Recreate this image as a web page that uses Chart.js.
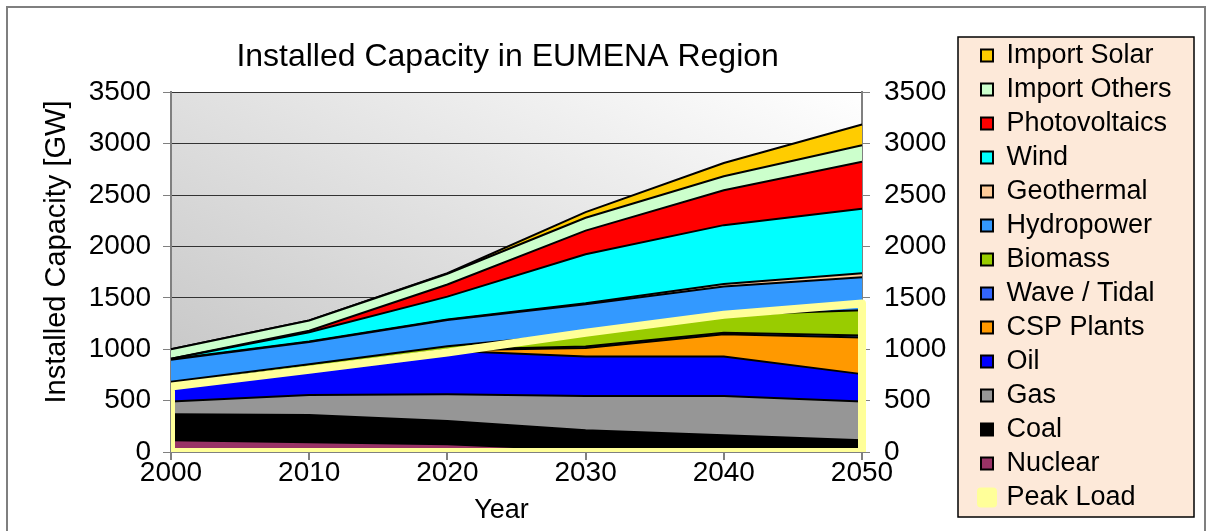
<!DOCTYPE html>
<html><head><meta charset="utf-8">
<script src="https://cdn.jsdelivr.net/npm/chart.js@4.4.1/dist/chart.umd.min.js"></script>
<style>html,body{margin:0;padding:0;background:#fff;} canvas{display:block;}</style>
</head><body>
<canvas id="c" width="1213" height="531"></canvas>
<script>
const years = [2000, 2010, 2020, 2030, 2040, 2050];
const nuclear       = [115,  95,  75,  20,  10,   5];
const coal          = [252, 265, 227, 191, 153, 109];
const gas           = [124, 195, 261, 335, 383, 377];
const oil           = [184, 265, 422, 384, 384, 267];
const cspPlants     = [  0,   0,   5,  82, 216, 357];
const waveTidal     = [  0,   5,   5,  15,  15,  18];
const biomass       = [ 10,  30,  35, 130, 176, 247];
const hydropower    = [214, 215, 255, 280, 273, 320];
const geothermal    = [  3,   5,   5,  10,  26,  40];
const wind          = [  5,  90, 222, 478, 572, 628];
const photovoltaics = [  0,  15, 118, 230, 339, 458];
const importOthers  = [ 93, 100, 105, 125, 136, 160];
const importSolar   = [  0,   0,   5,  55, 130, 201];
const peakLoad      = [637, 800, 969, 1160, 1335, 1445];
const yMin = 0, yMax = 3500, yStep = 500;

const stackSeries = [
  ['Nuclear', nuclear, '#993366'],
  ['Coal', coal, '#000000'],
  ['Gas', gas, '#969696'],
  ['Oil', oil, '#0000FF'],
  ['CSP Plants', cspPlants, '#FF9900'],
  ['Wave / Tidal', waveTidal, '#3366FF'],
  ['Biomass', biomass, '#99CC00'],
  ['Hydropower', hydropower, '#3399FF'],
  ['Geothermal', geothermal, '#FFCC99'],
  ['Wind', wind, '#00FFFF'],
  ['Photovoltaics', photovoltaics, '#FF0000'],
  ['Import Others', importOthers, '#CCFFCC'],
  ['Import Solar', importSolar, '#FFCC00']
];

const datasets = stackSeries.map(([label, data, color], i) => ({
  label, data,
  backgroundColor: color,
  borderColor: '#000000',
  borderWidth: 2,
  fill: i === 0 ? 'origin' : '-1',
  pointRadius: 0,
  tension: 0,
  order: 1,
  xAxisID: 'x', yAxisID: 'y'
}));

const peakPolygon = [{x: years[0], y: 0}]
  .concat(years.map((yr, i) => ({x: yr, y: peakLoad[i]})))
  .concat([{x: years[years.length - 1], y: 0}, {x: years[0], y: 0}]);

datasets.push({
  label: 'Peak Load',
  data: peakPolygon,
  backgroundColor: '#FFFF99',
  borderColor: '#FFFF99',
  borderWidth: 8,
  borderJoinStyle: 'round',
  fill: false,
  pointRadius: 0,
  tension: 0,
  order: 0,
  xAxisID: 'x2', yAxisID: 'y2',
  clip: {left: 0, top: 6, right: 4, bottom: 0}
});

const LEGEND_LEFT = 974;   // target left edge of the legend column
const PLOT_RIGHT = 862;    // target right edge of the plot area

const bgPlugin = {
  id: 'bg',
  beforeDraw(chart) {
    const ctx = chart.ctx;
    const a = chart.chartArea;
    ctx.save();
    ctx.strokeStyle = '#7f7f7f';
    ctx.lineWidth = 2;
    ctx.strokeRect(7, 7, chart.width - 15, chart.height + 10);
    const w = a.right - a.left, h = a.bottom - a.top;
    const len = Math.sqrt(w * w + h * h);
    const nx = h / len, ny = -w / len;
    const d = (w * nx + (-h) * ny);
    const g = ctx.createLinearGradient(a.left, a.bottom, a.left + nx * d, a.bottom + ny * d);
    g.addColorStop(0, '#C0C0C0');
    g.addColorStop(1, '#FFFFFF');
    ctx.fillStyle = g;
    ctx.fillRect(a.left, a.top, w, h);
    const L = chart.legend;
    const bx = L.left - 16, by = L.top + 2, bw = (chart.width - 19) - bx, bh = 480;
    ctx.fillStyle = '#FDE9D9';
    ctx.fillRect(bx, by, bw, bh);
    ctx.strokeStyle = '#000000';
    ctx.lineWidth = 1.5;
    ctx.strokeRect(bx, by, bw, bh);
    ctx.restore();
  }
};

Chart.defaults.font.family = '"Liberation Sans", Arial, sans-serif';
Chart.defaults.color = '#000000';

const chart = new Chart(document.getElementById('c'), {
  type: 'line',
  data: { labels: years.map(String), datasets },
  options: {
    responsive: false,
    animation: false,
    events: [],
    layout: { padding: { top: 35, right: 37, bottom: 0, left: 0 } },
    plugins: {
      title: {
        display: true, text: 'Installed Capacity in EUMENA Region  ',
        font: { size: 32, weight: 'normal' }, color: '#000',
        padding: { top: 3, bottom: 16 }, fullSize: false
      },
      legend: {
        position: 'right', align: 'start', reverse: true, maxWidth: 300,
        labels: { font: { size: 27 }, color: '#000', boxWidth: 12, boxHeight: 12, padding: 7 }
      },
      tooltip: { enabled: false }
    },
    scales: {
      x: {
        type: 'category', position: 'bottom', offset: false,
        grid: { drawOnChartArea: false, drawTicks: true, tickLength: 8, color: '#808080', lineWidth: 2 },
        border: { color: '#808080', width: 2 },
        ticks: { font: { size: 28 }, color: '#000', padding: -4, maxRotation: 0, autoSkip: false },
        title: { display: true, text: 'Year    ', font: { size: 27 }, color: '#000', padding: { top: 0, bottom: 4 } },
        afterFit: s => { s.height = 79; }
      },
      x2: { type: 'linear', display: false, min: years[0], max: years[years.length - 1] },
      y: {
        position: 'left', stacked: true, min: yMin, max: yMax,
        ticks: { stepSize: yStep, font: { size: 28 }, color: '#000', padding: 12, format: { useGrouping: false } },
        grid: { color: '#333333', lineWidth: 1, tickLength: 8, tickColor: '#808080' },
        border: { color: '#808080', width: 2 },
        title: { display: true, text: '     Installed Capacity [GW]', font: { size: 29 }, color: '#000', padding: { top: 40 } },
        afterFit: s => { s.width = 171; }
      },
      y2: {
        position: 'right', stacked: false, min: yMin, max: yMax,
        ticks: { stepSize: yStep, font: { size: 28 }, color: '#000', padding: 14, format: { useGrouping: false } },
        grid: { drawOnChartArea: false, tickLength: 8, color: '#808080' },
        border: { color: '#808080', width: 2 },
        afterFit: s => { s.width = LEGEND_LEFT - PLOT_RIGHT; }
      }
    }
  },
  plugins: [bgPlugin]
});
chart.options.layout.padding.right = chart.width - LEGEND_LEFT - chart.legend.width;
chart.update();
</script>
</body></html>
